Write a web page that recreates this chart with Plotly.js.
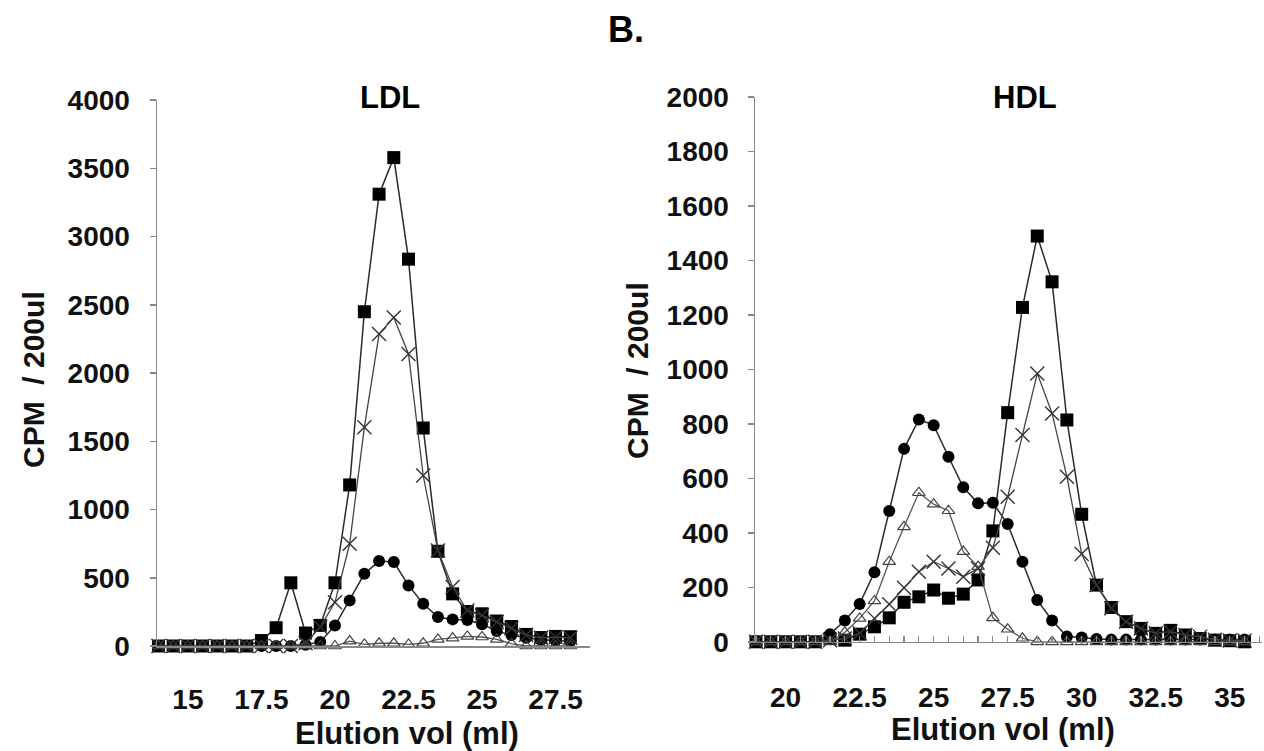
<!DOCTYPE html>
<html>
<head>
<meta charset="utf-8">
<script src="https://cdn.plot.ly/plotly-3.0.1.min.js"></script>
<style>html,body{margin:0;padding:0;background:#fff;}#chart{width:1264px;height:751px;}</style>
</head>
<body>
<div id="chart"></div>
<script>
// ---- LDL panel (elution volume, ml) ----
const ldlVol = [14,14.5,15,15.5,16,16.5,17,17.5,18,18.5,19,19.5,20,20.5,21,21.5,22,22.5,23,23.5,24,24.5,25,25.5,26,26.5,27,27.5,28];
const ldlSquare = [0,0,0,0,0,0,0,40,134,463,95,151,463,1180,2449,3310,3578,2834,1597,694,382,253,236,183,143,85,62,70,68];
const ldlCross  = [0,0,0,0,0,0,0,0,0,0,20,140,320,749,1603,2285,2407,2139,1249,700,432,260,225,175,130,80,60,65,60];
const ldlCircle = [0,0,0,0,0,0,0,0,0,0,10,30,150,334,529,622,615,444,310,212,195,190,160,110,80,60,45,40,35];
const ldlTri    = [0,0,0,0,0,0,0,0,0,0,0,0,0,36,12,20,20,12,20,48,58,70,66,48,17,0,0,0,0];
const ldlTicks  = [15,17.5,20,22.5,25,27.5];

// ---- HDL panel (elution volume, ml) ----
const hdlVol = [19,19.5,20,20.5,21,21.5,22,22.5,23,23.5,24,24.5,25,25.5,26,26.5,27,27.5,28,28.5,29,29.5,30,30.5,31,31.5,32,32.5,33,33.5,34,34.5,35,35.5];
const hdlSquare = [0,0,0,0,0,12,6,28,55,88,145,165,190,160,175,227,407,841,1227,1489,1321,814,468,208,126,74,49,31,42,25,12,6,4,0];
const hdlCircle = [0,0,0,0,0,28,78,139,255,480,708,816,795,679,567,508,510,432,294,153,78,19,16,10,8,8,8,8,8,8,8,8,8,8];
const hdlTri    = [0,0,0,0,0,0,35,86,150,294,422,547,505,481,331,276,88,46,13,0,0,0,0,0,0,0,0,0,0,0,0,0,0,0];
const hdlCross  = [0,0,0,0,0,6,12,31,86,138,198,257,294,269,239,269,345,532,759,985,838,606,322,208,123,74,49,31,37,25,19,8,5,5];
const hdlTicks  = [20,22.5,25,27.5,30,32.5,35];

const FONT = 'Liberation Sans, Arial, sans-serif';
const lineStyle = {color:'#2a2a2a', width:1.5};

function sq(x,y,xa,ya){return {x:x,y:y,xaxis:xa,yaxis:ya,type:'scatter',mode:'lines+markers',cliponaxis:false,
  line:lineStyle,marker:{symbol:'square',size:13,color:'#000',line:{width:0}},showlegend:false,hoverinfo:'x+y'};}
function ci(x,y,xa,ya){return {x:x,y:y,xaxis:xa,yaxis:ya,type:'scatter',mode:'lines+markers',cliponaxis:false,
  line:lineStyle,marker:{symbol:'circle',size:12,color:'#000',line:{width:0}},showlegend:false,hoverinfo:'x+y'};}
function tr(x,y,xa,ya){return {x:x,y:y,xaxis:xa,yaxis:ya,type:'scatter',mode:'lines+markers',cliponaxis:false,
  line:{color:'#555',width:1.3},marker:{symbol:'triangle-up-open',size:11,color:'#444',line:{width:1.2}},showlegend:false,hoverinfo:'x+y'};}
function cr(x,y,xa,ya){return {x:x,y:y,xaxis:xa,yaxis:ya,type:'scatter',mode:'lines+markers',cliponaxis:false,
  line:{color:'#444',width:1.3},marker:{symbol:'x-thin-open',size:14,color:'#333',line:{width:1.4}},showlegend:false,hoverinfo:'x+y'};}

const data = [
  sq(ldlVol,ldlSquare,'x','y'), ci(ldlVol,ldlCircle,'x','y'), tr(ldlVol,ldlTri,'x','y'), cr(ldlVol,ldlCross,'x','y'),
  sq(hdlVol,hdlSquare,'x2','y2'), ci(hdlVol,hdlCircle,'x2','y2'), tr(hdlVol,hdlTri,'x2','y2'), cr(hdlVol,hdlCross,'x2','y2')
];

const W = 1264, H = 751;
const tickFont = {family:FONT,size:28,color:'#111',weight:'bold'};

const layout = {
  width:W,height:H,margin:{l:0,r:0,t:0,b:0},
  paper_bgcolor:'#fff',plot_bgcolor:'rgba(0,0,0,0)',
  showlegend:false,
  xaxis:{domain:[157/W,590/W],range:[13.95,28.67],tickmode:'array',tickvals:ldlTicks,ticktext:ldlTicks.map(String),
    ticks:'',showline:true,linecolor:'#888',linewidth:1.5,showgrid:false,zeroline:false,
    tickfont:tickFont,ticklabelstandoff:28,anchor:'y'},
  yaxis:{domain:[1-646/H,1-100/H],range:[0,4000],dtick:500,tick0:0,ticks:'outside',ticklen:6,tickcolor:'#888',tickwidth:1.5,
    showline:true,linecolor:'#888',linewidth:1.5,showgrid:false,zeroline:false,tickfont:tickFont,ticklabelstandoff:14,anchor:'x'},
  xaxis2:{domain:[755/W,1262/W],range:[18.966,36.09],tickmode:'array',tickvals:hdlTicks,ticktext:hdlTicks.map(String),
    ticks:'',showline:true,linecolor:'#888',linewidth:1.5,showgrid:false,zeroline:false,
    minor:{ticks:'inside',dtick:0.5,tick0:19,ticklen:6,tickcolor:'#888',tickwidth:1.2},
    tickfont:tickFont,ticklabelstandoff:30,anchor:'y2'},
  yaxis2:{domain:[1-641.8/H,1-96.8/H],range:[0,2000],dtick:200,tick0:0,ticks:'outside',ticklen:6,tickcolor:'#888',tickwidth:1.5,
    showline:true,linecolor:'#888',linewidth:1.5,showgrid:false,zeroline:false,tickfont:tickFont,ticklabelstandoff:13,anchor:'x2'},
  annotations:[
    {text:'B.',x:626/W,y:1-30/H,xref:'paper',yref:'paper',showarrow:false,xanchor:'center',yanchor:'middle',
      font:{family:FONT,size:36,color:'#000',weight:'bold'}},
    {text:'LDL',x:390/W,y:1-98/H,xref:'paper',yref:'paper',showarrow:false,xanchor:'center',yanchor:'middle',
      font:{family:FONT,size:31,color:'#000',weight:'bold'}},
    {text:'HDL',x:1025/W,y:1-98/H,xref:'paper',yref:'paper',showarrow:false,xanchor:'center',yanchor:'middle',
      font:{family:FONT,size:31,color:'#000',weight:'bold'}},
    {text:'Elution vol (ml)',x:407/W,y:1-733/H,xref:'paper',yref:'paper',showarrow:false,xanchor:'center',yanchor:'middle',
      font:{family:FONT,size:31,color:'#111',weight:'bold'}},
    {text:'Elution vol (ml)',x:1003/W,y:1-729/H,xref:'paper',yref:'paper',showarrow:false,xanchor:'center',yanchor:'middle',
      font:{family:FONT,size:31,color:'#111',weight:'bold'}},
    {text:'CPM \u00a0/ 200ul',x:33/W,y:1-380/H,xref:'paper',yref:'paper',showarrow:false,xanchor:'center',yanchor:'middle',textangle:-90,
      font:{family:FONT,size:30,color:'#111',weight:'bold'}},
    {text:'CPM \u00a0/ 200ul',x:637/W,y:1-371/H,xref:'paper',yref:'paper',showarrow:false,xanchor:'center',yanchor:'middle',textangle:-90,
      font:{family:FONT,size:30,color:'#111',weight:'bold'}}
  ]
};

Plotly.newPlot('chart',data,layout,{staticPlot:true,displayModeBar:false});
</script>
</body>
</html>
